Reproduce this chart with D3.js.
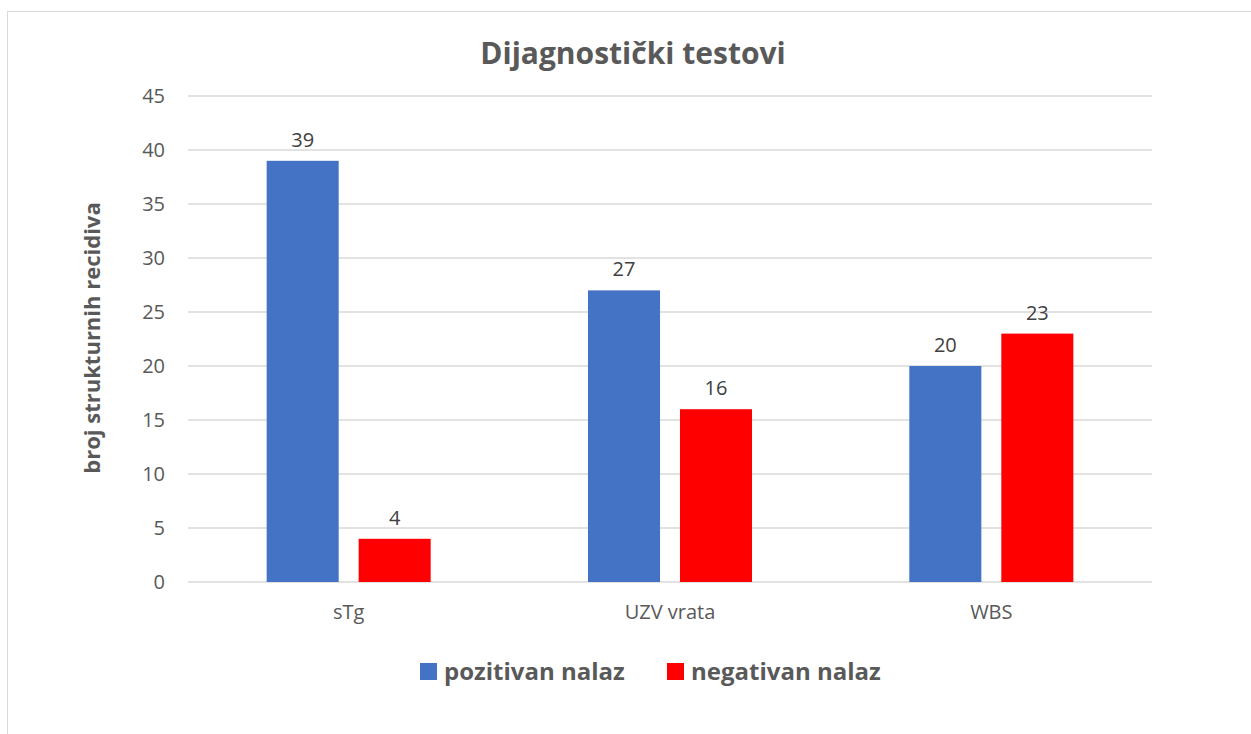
<!DOCTYPE html>
<html>
<head>
<meta charset="utf-8">
<script src="https://cdn.jsdelivr.net/npm/d3@7"></script>
<style>
  body { margin: 0; background: #fff; }
  text { font-family: "Open Sans", sans-serif; }
</style>
</head>
<body>
<div id="chart"></div>
<script>
// data
var categories = ["sTg", "UZV vrata", "WBS"];
var seriesNames = ["pozitivan nalaz", "negativan nalaz"];
var pozitivan = [39, 27, 20];
var negativan = [4, 16, 23];
var yTicks = [0, 5, 10, 15, 20, 25, 30, 35, 40, 45];
var colors = ["#4472C4", "#FF0000"];

var W = 1251, H = 734;
var margin = {top: 96, right: 99, bottom: 152, left: 188},
    width = W - margin.left - margin.right,
    height = H - margin.top - margin.bottom;

var svg = d3.select("#chart").append("svg")
    .attr("width", W)
    .attr("height", H);

// chart border (right / bottom edges are cropped in the original)
svg.append("rect")
    .attr("x", 7.5).attr("y", 11.5)
    .attr("width", 1400).attr("height", 900)
    .style("fill", "none")
    .style("stroke", "#d9d9d9")
    .style("stroke-width", 1);

var g = svg.append("g")
    .attr("transform", "translate(" + margin.left + "," + margin.top + ")");

var y = d3.scaleLinear().domain([0, 45]).range([height, 0]);
var x0 = d3.scaleBand().domain(categories).range([0, width]).padding(0);
var x1 = d3.scaleBand().domain(seriesNames).range([0, x0.bandwidth()])
    .paddingInner(0.217).paddingOuter(0.855);

// gridlines
g.append("g").selectAll("line")
    .data(yTicks)
    .enter().append("line")
    .attr("x1", 0).attr("x2", width)
    .attr("y1", function(d){ return y(d); })
    .attr("y2", function(d){ return y(d); })
    .style("stroke", "#d9d9d9")
    .style("stroke-width", 1.5);

// y tick labels
g.append("g").selectAll("text")
    .data(yTicks)
    .enter().append("text")
    .attr("x", -23)
    .attr("y", function(d){ return y(d); })
    .attr("dy", "0.35em")
    .attr("text-anchor", "end")
    .style("font-size", "20px")
    .style("fill", "#595959")
    .text(function(d){ return d; });

// bars
var rows = categories.map(function(c, i){
  return {cat: c, vals: [
    {name: seriesNames[0], v: pozitivan[i], color: colors[0]},
    {name: seriesNames[1], v: negativan[i], color: colors[1]}
  ]};
});

var groups = g.selectAll(".cat")
    .data(rows)
    .enter().append("g")
    .attr("class", "cat")
    .attr("transform", function(d){ return "translate(" + x0(d.cat) + ",0)"; });

groups.selectAll("rect")
    .data(function(d){ return d.vals; })
    .enter().append("rect")
    .attr("x", function(d){ return x1(d.name); })
    .attr("y", function(d){ return y(d.v); })
    .attr("width", x1.bandwidth())
    .attr("height", function(d){ return height - y(d.v); })
    .style("fill", function(d){ return d.color; });

// data labels
groups.selectAll("text.val")
    .data(function(d){ return d.vals; })
    .enter().append("text")
    .attr("class", "val")
    .attr("x", function(d){ return x1(d.name) + x1.bandwidth() / 2; })
    .attr("y", function(d){ return y(d.v) - 14; })
    .attr("text-anchor", "middle")
    .style("font-size", "20px")
    .style("fill", "#404040")
    .text(function(d){ return d.v; });

// category labels
g.append("g").selectAll("text")
    .data(categories)
    .enter().append("text")
    .attr("x", function(d){ return x0(d) + x0.bandwidth() / 2; })
    .attr("y", height + 37)
    .attr("text-anchor", "middle")
    .style("font-size", "20px")
    .style("fill", "#595959")
    .text(function(d){ return d; });

// title
svg.append("text")
    .attr("x", 633).attr("y", 64)
    .attr("text-anchor", "middle")
    .style("font-size", "30px")
    .style("font-weight", "bold")
    .style("fill", "#595959")
    .text("Dijagnostički testovi");

// y axis title
svg.append("text")
    .attr("transform", "translate(100,338) rotate(-90)")
    .attr("text-anchor", "middle")
    .style("font-size", "22px")
    .style("font-weight", "bold")
    .style("fill", "#595959")
    .text("broj strukturnih recidiva");

// legend
var legendX = [420, 667];
var legend = svg.append("g").selectAll("g")
    .data(seriesNames)
    .enter().append("g")
    .attr("transform", function(d, i){ return "translate(" + legendX[i] + ",663)"; });

legend.append("rect")
    .attr("width", 17).attr("height", 17)
    .style("fill", function(d, i){ return colors[i]; });

legend.append("text")
    .attr("x", 24).attr("y", 17)
    .style("font-size", "24px")
    .style("font-weight", "bold")
    .style("fill", "#595959")
    .text(function(d){ return d; });
</script>
</body>
</html>
